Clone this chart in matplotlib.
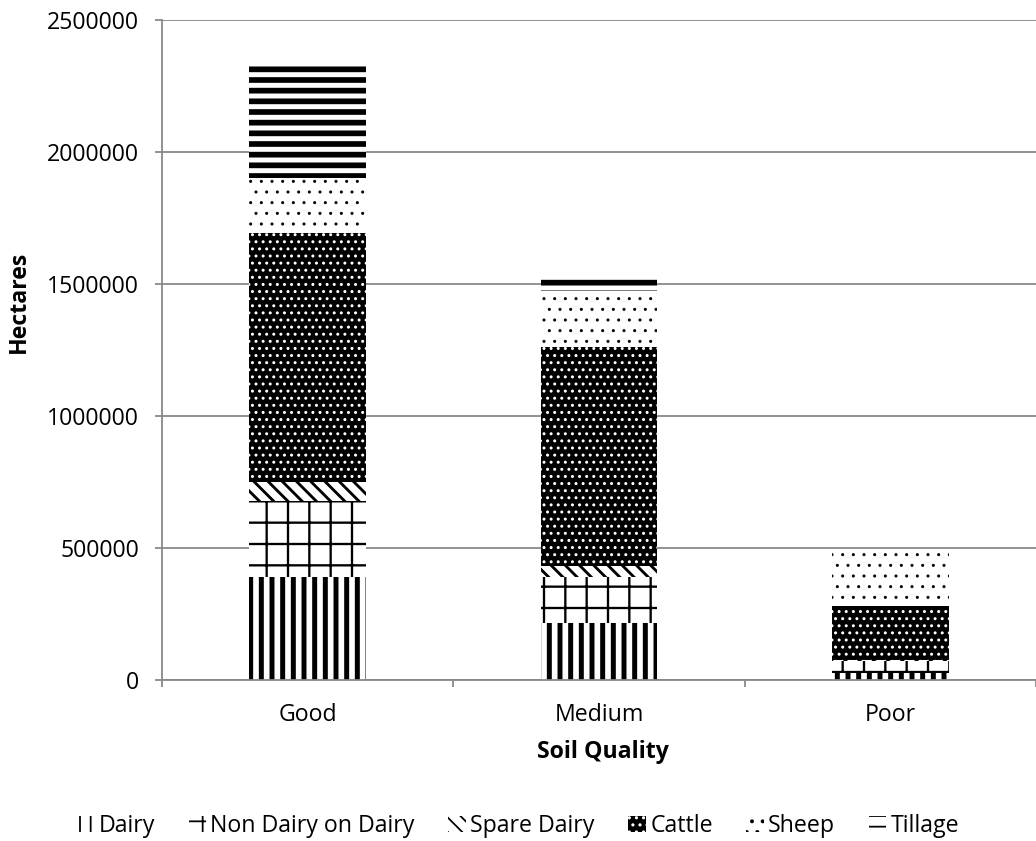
import matplotlib
matplotlib.use("Agg")
import matplotlib.pyplot as plt
import matplotlib.patches as mpatches
import numpy as np

# Land use by soil quality (hectares), stacked bottom to top
soil_quality = ["Good", "Medium", "Poor"]
dairy = [390000, 216000, 27000]
non_dairy_on_dairy = [288000, 174000, 45000]
spare_dairy = [72000, 42000, 4000]
cattle = [943000, 829000, 204000]
sheep = [209000, 212000, 201000]
tillage = [435000, 46000, 0]
series_names = ["Dairy", "Non Dairy on Dairy", "Spare Dairy", "Cattle", "Sheep", "Tillage"]
y_ticks = [0, 500000, 1000000, 1500000, 2000000, 2500000]

series = [dairy, non_dairy_on_dairy, spare_dairy, cattle, sheep, tillage]

# monochrome fill patterns: (hatch, face colour, hatch colour, hatch line width)
styles = [
    ("||", "white", "black", 2.8),
    ("+", "white", "black", 1.3),
    ("\\\\\\", "white", "black", 1.6),
    ("...", "black", "white", 0.9),
    ("..", "white", "black", 0.5),
    ("--", "white", "black", 3.2),
]

plt.rcParams["font.family"] = ["Open Sans", "DejaVu Sans"]
FS = 13
GRID = "#878787"

DPI = 128
W, H = 1036, 841
fig = plt.figure(figsize=(W / DPI, H / DPI), dpi=DPI)
ax = fig.add_axes([162 / W, (H - 680) / H, (W - 162) / W, 660 / H])

x = np.arange(len(soil_quality))
bottom = np.zeros(len(soil_quality))
handles = []
for name, vals, (hatch, face, ink, hlw) in zip(series_names, series, styles):
    vals = np.asarray(vals, dtype=float)
    bars = ax.bar(x, vals, 0.40, bottom=bottom, color=face, edgecolor=ink,
                  linewidth=0, hatch=hatch, zorder=2)
    for b in bars:
        b.set_hatch_linewidth(hlw)
    h = mpatches.Patch(facecolor=face, edgecolor=ink, hatch=hatch, linewidth=0, label=name)
    h.set_hatch_linewidth(hlw)
    handles.append(h)
    bottom += vals

ax.set_xlim(-0.5, -0.5 + (W - 162) / 294)
ax.set_ylim(0, 2500000)
ax.set_yticks(y_ticks)
ax.set_yticklabels([str(v) for v in y_ticks], fontsize=FS)
ax.yaxis.grid(True, color=GRID, linewidth=1.0, zorder=0)
ax.set_axisbelow(True)

ax.set_xticks(x)
ax.set_xticklabels(soil_quality, fontsize=FS)
ax.set_xticks(np.arange(len(soil_quality) + 1) - 0.5, minor=True)
ax.tick_params(axis="x", which="major", length=0, pad=13)
ax.tick_params(axis="x", which="minor", length=4, color=GRID, width=1.0)
ax.tick_params(axis="y", length=4, color=GRID, width=1.0, pad=9)

for side in ("top", "right"):
    ax.spines[side].set_visible(False)
for side in ("left", "bottom"):
    ax.spines[side].set_color(GRID)
    ax.spines[side].set_linewidth(1.0)

fig.text(19 / W, 1 - 302 / H, "Hectares", rotation=90, ha="center", va="center",
         fontsize=FS, fontweight="bold")
fig.text(603 / W, 1 - 752 / H, "Soil Quality", ha="center", va="center",
         fontsize=FS, fontweight="bold")

fig.legend(handles=handles, loc="center", bbox_to_anchor=(518 / W, 1 - 826 / H),
           ncol=6, frameon=False, fontsize=FS, handlelength=0.75, handleheight=0.66,
           handletextpad=0.2, columnspacing=1.45, borderpad=0, borderaxespad=0)

fig.savefig("out.png", dpi=DPI)
